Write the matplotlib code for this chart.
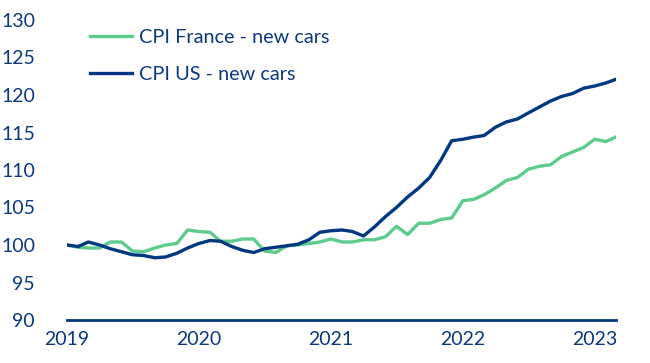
import matplotlib
matplotlib.use("Agg")
import matplotlib.pyplot as plt
import matplotlib.dates as mdates
import pandas as pd

months = pd.date_range("2019-01-01", periods=51, freq="MS")

cpi_us = [100.0, 99.8, 100.4, 100.0, 99.5, 99.1, 98.7, 98.6, 98.3, 98.4, 98.9, 99.6,
          100.2, 100.6, 100.5, 99.8, 99.3, 99.0, 99.5, 99.7, 99.9, 100.1, 100.7, 101.7,
          101.9, 102.0, 101.8, 101.2, 102.4, 103.8, 105.0, 106.4, 107.6, 109.0, 111.3, 113.9,
          114.1, 114.4, 114.6, 115.7, 116.4, 116.8, 117.6, 118.4, 119.2, 119.8, 120.2, 120.9,
          121.2, 121.6, 122.1]
cpi_france = [100.0, 99.7, 99.6, 99.6, 100.4, 100.4, 99.2, 99.1, 99.6, 100.0, 100.2, 102.0,
              101.8, 101.7, 100.5, 100.5, 100.8, 100.8, 99.2, 99.0, 99.9, 100.0, 100.2, 100.4,
              100.8, 100.4, 100.4, 100.7, 100.7, 101.1, 102.5, 101.4, 102.9, 102.9, 103.4, 103.6,
              105.9, 106.1, 106.7, 107.6, 108.6, 109.0, 110.1, 110.5, 110.7, 111.8, 112.4, 113.0,
              114.1, 113.8, 114.4]
labels = ["CPI France - new cars", "CPI US - new cars"]
yticks = [90, 95, 100, 105, 110, 115, 120, 125, 130]

navy = "#003781"
green = "#5ccb8c"
textc = "#0b3880"

plt.rcParams["font.family"] = ["Lato", "DejaVu Sans"]

fig = plt.figure(figsize=(6.5, 3.63), dpi=100)
ax = fig.add_axes([67/650, 1-320/363, (616-67)/650, 300/363])

ax.plot(months, cpi_france, color=green, lw=2.4, label=labels[0], solid_joinstyle="round")
ax.plot(months, cpi_us, color=navy, lw=2.4, label=labels[1], solid_joinstyle="round")

ax.set_xlim(months[0], months[-1])
ax.set_ylim(90, 130)
ax.set_yticks(yticks)
ax.xaxis.set_major_locator(mdates.YearLocator())
ax.xaxis.set_major_formatter(mdates.DateFormatter("%Y"))

for s in ["top", "right", "left"]:
    ax.spines[s].set_visible(False)
ax.spines["bottom"].set_color(navy)
ax.spines["bottom"].set_linewidth(2.0)
ax.tick_params(axis="both", length=0, labelsize=14, labelcolor=textc)
ax.tick_params(axis="y", pad=23)
ax.tick_params(axis="x", pad=8)

leg = ax.legend(loc="upper left", bbox_to_anchor=(23/549, (320-29)/300), frameon=False,
                fontsize=14.3, handlelength=2.1, handletextpad=0.36, labelspacing=1.0,
                borderpad=0, borderaxespad=0)
for t in leg.get_texts():
    t.set_color(textc)

fig.savefig("out.png", dpi=100)
